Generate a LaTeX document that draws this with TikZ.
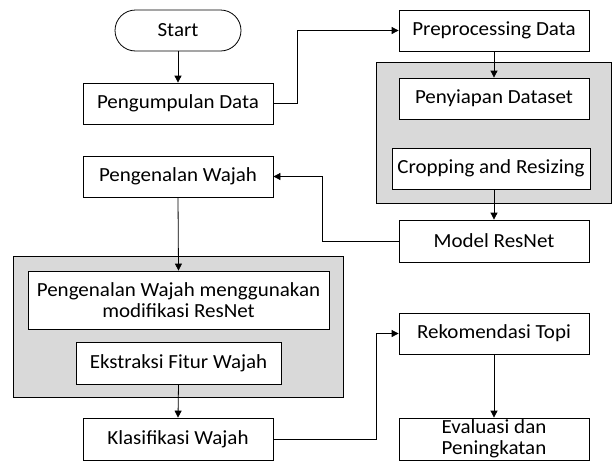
\documentclass[tikz,border=0pt]{standalone}
\usepackage{fontspec}
\setmainfont[FakeStretch=1.05]{Carlito}
\usetikzlibrary{arrows.meta}
\definecolor{panel}{RGB}{217,217,217}
\tikzset{
  box/.style={draw, fill=white, line width=0.8pt, inner sep=0pt, align=center,
    font=\fontsize{20}{21.5}\selectfont},
  panelbox/.style={draw, fill=panel, line width=0.8pt, inner sep=0pt},
  conn/.style={line width=0.8pt, -{Triangle[width=7pt,length=7pt]}}
}
\begin{document}
\begin{tikzpicture}[x=1pt,y=-1pt]
\useasboundingbox (0,0) rectangle (612,461);
% panels
\node[panelbox, minimum width=330pt, minimum height=141pt] (grayL) at (178,326.5) {};
\node[panelbox, minimum width=235pt, minimum height=141pt] (grayR) at (493.5,132.5) {};
% left column
\node[box, rounded corners=20.5pt, minimum width=126pt, minimum height=41pt] (start) at (178,30.5) {Start};
\node[box, minimum width=190pt, minimum height=41pt] (pd) at (178,103.5) {Pengumpulan Data};
\node[box, minimum width=190pt, minimum height=41pt] (pw) at (178,176.5) {Pengenalan Wajah};
\node[box, minimum width=301pt, minimum height=58pt] (pwm) at (178.5,300) {Pengenalan Wajah menggunakan\\modifikasi ResNet};
\node[box, minimum width=205pt, minimum height=42pt] (efw) at (178.5,363) {Ekstraksi Fitur Wajah};
\node[box, minimum width=190pt, minimum height=42pt] (kw) at (178,439) {Klasifikasi Wajah};
% right column
\node[box, minimum width=190pt, minimum height=41pt] (prep) at (494,30.5) {Preprocessing Data};
\node[box, minimum width=190pt, minimum height=41pt] (psd) at (494,98.5) {Penyiapan Dataset};
\node[box, minimum width=198pt, minimum height=41pt] (cr) at (491,168.5) {Cropping and Resizing};
\node[box, minimum width=190pt, minimum height=42pt] (mr) at (494,241) {Model ResNet};
\node[box, minimum width=190pt, minimum height=41pt] (rt) at (494,333.5) {Rekomendasi Topi};
\node[box, minimum width=190pt, minimum height=42pt, font=\fontsize{20}{20.5}\selectfont] (ev) at (494,439) {Evaluasi dan\\Peningkatan};
% connectors
\draw[conn] (start.south) -- (pd.north);
\draw[conn] (pd.east) -- (297,103.5) -- (297,30.5) -- (prep.west);
\draw[conn] (prep.south) -- (psd.north);
\draw[conn] (cr.south -| mr.north) -- (mr.north);
\draw[conn] (mr.west) -- (322,241) -- (322,176.5) -- (pw.east);
\draw[conn] (pw.south) -- (pwm.north);
\draw[conn] (efw.south) -- (kw.north);
\draw[conn] (kw.east) -- (376,439) -- (376,333.5) -- (rt.west);
\draw[conn] (rt.south) -- (ev.north);
\end{tikzpicture}
\end{document}
